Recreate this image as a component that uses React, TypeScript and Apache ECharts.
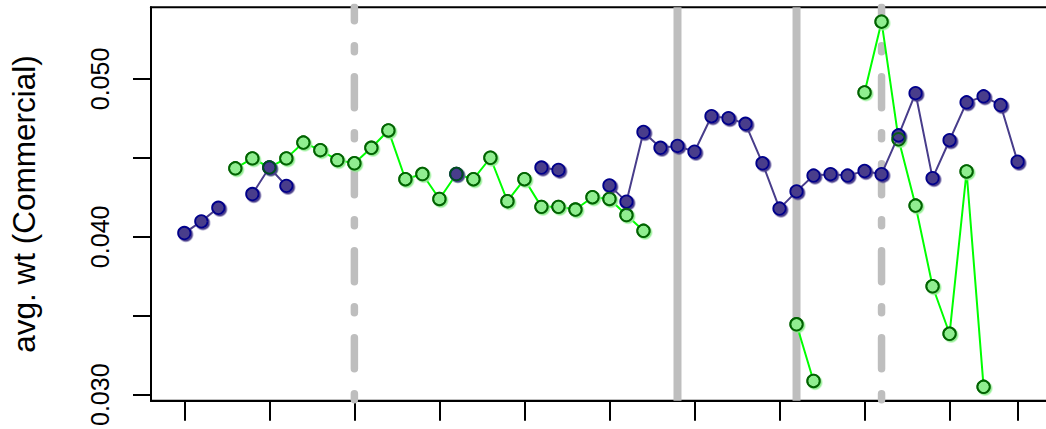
import React, { useEffect, useRef } from "react";
import * as echarts from "echarts";

// x positions (index of period)
const xIndex = [
  0, 1, 2, 3, 4, 5, 6, 7, 8, 9, 10, 11, 12, 13, 14, 15, 16, 17, 18, 19, 20, 21, 22, 23, 24,
  25, 26, 27, 28, 29, 30, 31, 32, 33, 34, 35, 36, 37, 38, 39, 40, 41, 42, 43, 44, 45, 46, 47, 48, 49,
];

const blueValues: (number | null)[] = [
  0.04024, 0.04098, 0.04184, null, 0.04271, 0.04439, 0.04323, null, null, null,
  null, null, null, null, null, null, 0.04398, null, null, null,
  null, 0.04439, 0.04424, null, null, 0.04326, 0.04223, 0.04664, 0.04564, 0.04576,
  0.04539, 0.04764, 0.04752, 0.04716, 0.04466, 0.04179, 0.04288, 0.04388, 0.04397, 0.04388,
  0.04417, 0.04397, 0.04643, 0.0491, 0.04372, 0.04612, 0.04852, 0.0489, 0.04835, 0.04476,
];

const greenValues: (number | null)[] = [
  null, null, null, 0.04434, 0.04497, 0.0444, 0.04497, 0.04597, 0.04549, 0.04486,
  0.04466, 0.04564, 0.04674, 0.04365, 0.04398, 0.0424, 0.04398, 0.04365, 0.04501, 0.04226,
  0.04365, 0.0419, 0.0419, 0.04173, 0.04251, 0.0424, 0.04138, 0.04038, null, null,
  null, null, null, null, null, null, 0.03446, 0.03087, null, null,
  0.04915, 0.05363, 0.04618, 0.04198, 0.03687, 0.03386, 0.04414, 0.0305, null, null,
];

const solidRefLines = [29, 36];
const dashedRefLines = [10, 41];

const xTicks = [0, 5, 10, 15, 20, 25, 30, 35, 40, 45, 49];
const yTicks = [0.03, 0.035, 0.04, 0.045, 0.05];
const yTickLabels = [0.03, 0.04, 0.05];

const yTitle = "avg. wt (Commercial)";

const X_MIN = -1.96;
const X_MAX = 50.96;
const Y_MIN = 0.02962;
const Y_MAX = 0.05454;

const FONT = '"Liberation Sans", Arial, Helvetica, sans-serif';

function pairs(vals: (number | null)[]) {
  return xIndex.map((x, i) => [x, vals[i] === null ? "-" : vals[i]]);
}

function refLine(x: number, dashed: boolean) {
  return {
    type: "line",
    data: [
      [x, Y_MIN],
      [x, Y_MAX],
    ],
    symbol: "none",
    silent: true,
    clip: true,
    z: 1,
    lineStyle: {
      color: "#BEBEBE",
      width: dashed ? 7.5 : 8,
      type: dashed ? [6, 25, 31, 25] : "solid",
      cap: dashed ? "round" : "butt",
      dashOffset: dashed ? -1.5 : 0,
    },
    emphasis: { disabled: true },
  };
}

export default function App() {
  const ref = useRef<HTMLDivElement>(null);

  useEffect(() => {
    if (!ref.current) return;
    const chart = echarts.init(ref.current, undefined, { renderer: "svg" });

    const blueFill = "#483D8B";
    const greenFill = "#90EE90";

    const option: any = {
      animation: false,
      grid: {
        left: 149.7,
        top: 7.3,
        width: (X_MAX - X_MIN) * 17.03,
        height: 397.7,
        show: true,
        borderColor: "#000",
        borderWidth: 2,
        backgroundColor: "transparent",
      },
      xAxis: {
        type: "value",
        min: X_MIN,
        max: X_MAX,
        axisLine: { show: true, onZero: false, lineStyle: { color: "#000", width: 2 } },
        splitLine: { show: false },
        axisTick: {
          show: true,
          customValues: xTicks,
          length: 20,
          lineStyle: { color: "#000", width: 2 },
        },
        axisLabel: { show: false, customValues: xTicks },
      },
      yAxis: {
        type: "value",
        min: Y_MIN,
        max: Y_MAX,
        axisLine: { show: true, onZero: false, lineStyle: { color: "#000", width: 2 } },
        splitLine: { show: false },
        axisTick: {
          show: true,
          customValues: yTicks,
          length: 18,
          lineStyle: { color: "#000", width: 2 },
        },
        axisLabel: {
          show: true,
          customValues: yTickLabels,
          rotate: 90,
          margin: 39,
          fontSize: 25,
          color: "#000",
          fontFamily: FONT,
          formatter: (v: number) => v.toFixed(3),
        },
        name: yTitle,
        nameLocation: "middle",
        nameRotate: 90,
        nameGap: 111,
        nameTextStyle: { fontSize: 31.5, color: "#000", fontFamily: FONT },
      },
      series: [
        ...dashedRefLines.map((x) => refLine(x, true)),
        ...solidRefLines.map((x) => refLine(x, false)),
        {
          type: "line",
          data: pairs(greenValues),
          symbol: "circle",
          symbolSize: 12.5,
          showSymbol: true,
          showAllSymbol: true,
          connectNulls: false,
          z: 2,
          lineStyle: { color: "#00FF00", width: 2 },
          itemStyle: {
            color: greenFill,
            borderColor: "#006400",
            borderWidth: 1.8,
            shadowColor: greenFill,
            shadowOffsetX: 1.5,
            shadowOffsetY: 1.5,
            shadowBlur: 0,
          },
          emphasis: { disabled: true },
        },
        {
          type: "line",
          data: pairs(blueValues),
          symbol: "circle",
          symbolSize: 12.5,
          showSymbol: true,
          showAllSymbol: true,
          connectNulls: false,
          z: 3,
          lineStyle: { color: blueFill, width: 2 },
          itemStyle: {
            color: blueFill,
            borderColor: "#00008B",
            borderWidth: 1.8,
            shadowColor: blueFill,
            shadowOffsetX: 1.5,
            shadowOffsetY: 1.5,
            shadowBlur: 0,
          },
          emphasis: { disabled: true },
        },
        {
          type: "scatter",
          data: pairs(greenValues),
          symbol: "circle",
          symbolSize: 12.5,
          z: 4,
          itemStyle: {
            color: "rgba(0,0,0,0)",
            borderColor: "#006400",
            borderWidth: 1.8,
          },
          emphasis: { disabled: true },
        },
      ],
    };

    chart.setOption(option);
    return () => chart.dispose();
  }, []);

  return (
    <div
      style={{
        position: "fixed",
        left: 0,
        top: 0,
        width: 1046,
        height: 429,
        overflow: "hidden",
        background: "#fff",
      }}
    >
      <div ref={ref} style={{ width: 1070, height: 429 }} />
    </div>
  );
}
